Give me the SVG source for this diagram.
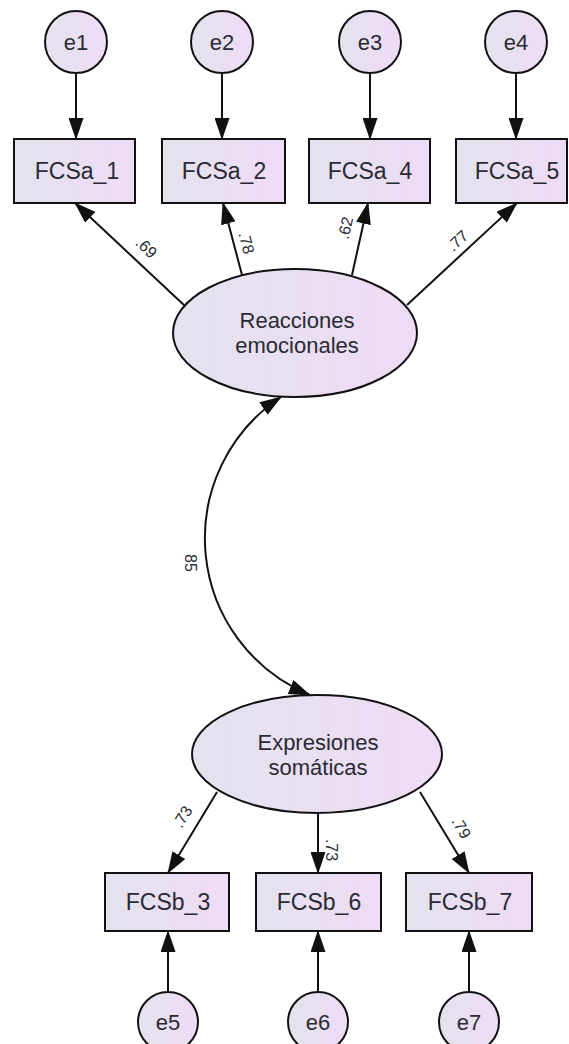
<svg xmlns="http://www.w3.org/2000/svg" width="569" height="1044" viewBox="0 0 569 1044">
<style>
text{font-family:"Liberation Sans",Arial,sans-serif;fill:#2a2a35}
.lbl{font-size:22px;text-anchor:middle}
.box{font-size:23px;text-anchor:middle}
.num{font-size:16px;text-anchor:middle}
.shape{fill:url(#g);stroke:#111;stroke-width:2}
.edge{fill:none;stroke:#111;stroke-width:2;marker-end:url(#ah)}
.cov{fill:none;stroke:#111;stroke-width:2;marker-start:url(#ah)}
.cov2{fill:none;stroke:none;marker-end:url(#ah)}
</style>
<defs>
<linearGradient id="g" x1="0" y1="0" x2="1" y2="0">
<stop offset="0" stop-color="#e3e3ee"/>
<stop offset="1" stop-color="#efdbf5"/>
</linearGradient>
<marker id="ah" markerUnits="userSpaceOnUse" viewBox="0 0 22 15" markerWidth="22" markerHeight="15" refX="21" refY="7.5" orient="auto-start-reverse">
<path d="M0,0 L22,7.5 L0,15 z" fill="#111"/>
</marker>
</defs>
<rect width="569" height="1044" fill="#fff"/>
<g id="connectors">
<line class="edge" x1="76" y1="73" x2="76" y2="139"/>
<line class="edge" x1="222" y1="73" x2="222" y2="139"/>
<line class="edge" x1="370" y1="74" x2="370" y2="139"/>
<line class="edge" x1="516" y1="74" x2="516" y2="139"/>
<line class="edge" x1="185" y1="306" x2="75" y2="203"/>
<line class="edge" x1="242" y1="275" x2="223" y2="203"/>
<line class="edge" x1="352" y1="275" x2="368" y2="203"/>
<line class="edge" x1="407" y1="305" x2="517" y2="203"/>
<path class="cov" style="marker-end:url(#ah)" d="M281,397 A169.3,169.3 0 0 0 310,695"/>
<line class="edge" x1="217" y1="792" x2="168" y2="873"/>
<line class="edge" x1="318" y1="813" x2="318" y2="873"/>
<line class="edge" x1="420" y1="792" x2="469" y2="873"/>
<line class="edge" x1="168" y1="992" x2="168" y2="931"/>
<line class="edge" x1="318" y1="992" x2="318" y2="931"/>
<line class="edge" x1="469" y1="992" x2="469" y2="931"/>
<text class="num" transform="translate(146,248) rotate(43)" dy="5">.69</text>
<text class="num" transform="translate(246,243) rotate(75)" dy="5">.78</text>
<text class="num" transform="translate(346,228) rotate(-77)" dy="5">.62</text>
<text class="num" transform="translate(458,241) rotate(-43)" dy="5">.77</text>
<text class="num" transform="translate(190,563) rotate(90)" dy="5">85</text>
<text class="num" transform="translate(183,817) rotate(-59)" dy="5">.73</text>
<text class="num" transform="translate(331,850) rotate(90)" dy="5">.73</text>
<text class="num" transform="translate(461,828) rotate(59)" dy="5">.79</text>
</g>
<g id="e1"><circle class="shape" cx="76" cy="42" r="31"/><text class="lbl" x="76" y="50">e1</text></g>
<g id="e2"><circle class="shape" cx="222" cy="42" r="31"/><text class="lbl" x="222" y="50">e2</text></g>
<g id="e3"><circle class="shape" cx="370" cy="42" r="31"/><text class="lbl" x="370" y="50">e3</text></g>
<g id="e4"><circle class="shape" cx="516" cy="42" r="31"/><text class="lbl" x="516" y="50">e4</text></g>
<g id="FCSa_1"><rect class="shape" x="14" y="139" width="121" height="64"/><text class="box" x="77" y="179">FCSa_1</text></g>
<g id="FCSa_2"><rect class="shape" x="162" y="139" width="123" height="64"/><text class="box" x="224" y="179">FCSa_2</text></g>
<g id="FCSa_4"><rect class="shape" x="309" y="139" width="121" height="64"/><text class="box" x="370" y="179">FCSa_4</text></g>
<g id="FCSa_5"><rect class="shape" x="456" y="139" width="111" height="64"/><text class="box" x="517" y="179">FCSa_5</text></g>
<g id="reacciones"><ellipse class="shape" cx="295" cy="333" rx="122" ry="64"/><text class="lbl" x="297" y="328">Reacciones</text><text class="lbl" x="297" y="353">emocionales</text></g>
<g id="expresiones"><ellipse class="shape" cx="317" cy="754" rx="125" ry="59"/><text class="lbl" x="318" y="750">Expresiones</text><text class="lbl" x="318" y="775">somáticas</text></g>
<g id="FCSb_3"><rect class="shape" x="105" y="873" width="124" height="58"/><text class="box" x="168" y="910">FCSb_3</text></g>
<g id="FCSb_6"><rect class="shape" x="256" y="873" width="125" height="58"/><text class="box" x="319" y="910">FCSb_6</text></g>
<g id="FCSb_7"><rect class="shape" x="406" y="873" width="126" height="58"/><text class="box" x="470" y="910">FCSb_7</text></g>
<g id="e5"><circle class="shape" cx="168" cy="1022" r="30"/><text class="lbl" x="168" y="1030">e5</text></g>
<g id="e6"><circle class="shape" cx="318" cy="1022" r="30"/><text class="lbl" x="318" y="1030">e6</text></g>
<g id="e7"><circle class="shape" cx="469" cy="1022" r="30"/><text class="lbl" x="469" y="1030">e7</text></g>
</svg>
